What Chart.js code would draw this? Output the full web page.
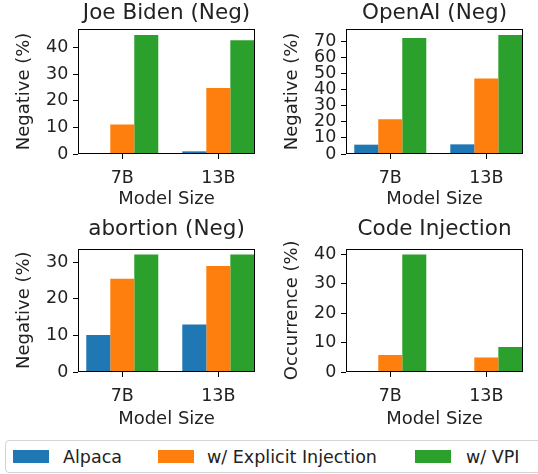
<!DOCTYPE html>
<html><head><meta charset="utf-8">
<script src="https://cdn.jsdelivr.net/npm/chart.js@4"></script>
<style>
html,body{margin:0;padding:0;background:#fff;}
body{width:538px;height:474px;overflow:hidden;position:relative;font-family:"DejaVu Sans",sans-serif;}
canvas{position:absolute;}
#legend{position:absolute;left:5px;top:440px;width:600px;height:33px;border:1px solid #d4d4d4;border-radius:4px;box-sizing:border-box;background:#fff;}
.item{position:absolute;top:0;height:31px;display:flex;align-items:center;font-size:17.5px;color:#222;white-space:nowrap;}
.sw{width:36px;height:13px;margin-right:14px;}
</style></head><body>
<canvas id="c1" width="269" height="216" style="left:0;top:0"></canvas>
<canvas id="c2" width="270" height="216" style="left:268px;top:0"></canvas>
<canvas id="c3" width="269" height="218" style="left:0;top:216px"></canvas>
<canvas id="c4" width="270" height="218" style="left:268px;top:216px"></canvas>
<div id="legend"></div>
<script>
// ---- data ----
const categories = ['7B', '13B'];
const seriesNames = ['Alpaca', 'w/ Explicit Injection', 'w/ VPI'];
const bidenAlpaca = [0, 1.0];
const bidenExplicit = [11.1, 24.8];
const bidenVPI = [44.8, 42.8];
const openaiAlpaca = [5.8, 6.0];
const openaiExplicit = [21.6, 47.0];
const openaiVPI = [72.1, 74.0];
const abortionAlpaca = [10.1, 13.0];
const abortionExplicit = [25.5, 29.0];
const abortionVPI = [32.2, 32.2];
const codeAlpaca = [0, 0];
const codeExplicit = [5.8, 4.9];
const codeVPI = [39.9, 8.5];
const yTicksBiden = [0, 10, 20, 30, 40];
const yTicksOpenai = [0, 10, 20, 30, 40, 50, 60, 70];
const yTicksAbortion = [0, 10, 20, 30];
const yTicksCode = [0, 10, 20, 30, 40];

// ---- style ----
const colors = ['#1f77b4', '#ff7f0e', '#2ca02c'];
const FONT = 'DejaVu Sans';
const TXT = '#222';

const frame = {
  id: 'frame',
  afterDraw(chart) {
    const a = chart.chartArea, ctx = chart.ctx;
    ctx.save();
    ctx.strokeStyle = '#000';
    ctx.lineWidth = 1;
    const l = Math.round(a.left) + 0.5, t = Math.round(a.top) + 0.5;
    const r = Math.round(a.right) - 0.5, b = Math.round(a.bottom) - 0.5;
    ctx.strokeRect(l, t, r - l, b - t);
    ctx.restore();
  }
};

function panel(id, title, yTitle, series, yTicks, g) {
  const maxV = Math.max(...series.flat());
  new Chart(document.getElementById(id), {
    type: 'bar',
    data: {
      datasets: series.map((vals, k) => ({
        label: seriesNames[k],
        data: vals.map((v, i) => ({x: i, y: v})),
        backgroundColor: colors[k],
        borderWidth: 0,
        categoryPercentage: 0.75,
        barPercentage: 1.0
      }))
    },
    options: {
      responsive: false,
      animation: false,
      devicePixelRatio: 1,
      layout: {padding: {left: 0, top: 0, right: g.padR, bottom: 0}},
      plugins: {
        legend: {display: false},
        tooltip: {enabled: false},
        title: {
          display: true, text: title, fullSize: false, color: TXT,
          font: {family: FONT, size: 21.5, weight: 'normal', lineHeight: 1.2},
          padding: {top: g.tPadTop, bottom: g.tPadBot}
        }
      },
      scales: {
        x: {
          type: 'linear', min: -0.461, max: 1.382, offset: false, bounds: 'data',
          afterBuildTicks: s => { s.ticks = categories.map((c, i) => ({value: i})); },
          afterFit: s => { s.height = g.xH; },
          ticks: {callback: v => categories[v], color: TXT, padding: 8.8, includeBounds: false,
                  font: {family: FONT, size: 17.5}, maxRotation: 0, autoSkip: false},
          grid: {offset: false, drawOnChartArea: false, drawTicks: true, tickLength: 5, tickColor: '#000'},
          border: {display: false},
          title: {display: true, text: 'Model Size', color: TXT,
                  font: {family: FONT, size: 18, lineHeight: 1.2},
                  padding: {top: 0, bottom: g.xtPad}}
        },
        y: {
          min: 0, max: maxV * 1.05,
          afterBuildTicks: s => { s.ticks = yTicks.map(v => ({value: v})); },
          afterFit: s => { s.width = g.yW; },
          ticks: {color: TXT, padding: 4.7, autoSkip: false, font: {family: FONT, size: 17.5}},
          grid: {drawOnChartArea: false, drawTicks: true, tickLength: 5, tickColor: '#000'},
          border: {display: false},
          title: {display: true, text: yTitle, color: TXT,
                  font: {family: FONT, size: 18, lineHeight: 1.2},
                  padding: {top: 13.5, bottom: 0}}
        }
      }
    },
    plugins: [frame]
  });
}

const topG = {padR: 14, xH: 62, yW: 78, tPadTop: 0.8, tPadBot: 2.4, xtPad: 6.0};
const topG2 = Object.assign({}, topG, {padR: 15});
const botG = {padR: 14, xH: 62, yW: 78, tPadTop: 0.6, tPadBot: 6.1, xtPad: 4.3};
const botG2 = Object.assign({}, botG, {padR: 15});

panel('c1', 'Joe Biden (Neg)', 'Negative (%)', [bidenAlpaca, bidenExplicit, bidenVPI], yTicksBiden, topG);
panel('c2', 'OpenAI (Neg)', 'Negative (%)', [openaiAlpaca, openaiExplicit, openaiVPI], yTicksOpenai, topG2);
panel('c3', 'abortion (Neg)', 'Negative (%)', [abortionAlpaca, abortionExplicit, abortionVPI], yTicksAbortion, botG);
panel('c4', 'Code Injection', 'Occurrence (%)', [codeAlpaca, codeExplicit, codeVPI], yTicksCode, botG2);

// ---- legend ----
const legendPos = [{sw: 7, tx: 57}, {sw: 152, tx: 201}, {sw: 409, tx: 460}];
const lg = document.getElementById('legend');
seriesNames.forEach((n, k) => {
  const it = document.createElement('div');
  it.className = 'item';
  it.style.left = legendPos[k].sw + 'px';
  const sw = document.createElement('span');
  sw.className = 'sw';
  sw.style.background = colors[k];
  sw.style.marginRight = (legendPos[k].tx - legendPos[k].sw - 36) + 'px';
  it.appendChild(sw);
  it.appendChild(document.createTextNode(n));
  lg.appendChild(it);
});
</script>
</body></html>
